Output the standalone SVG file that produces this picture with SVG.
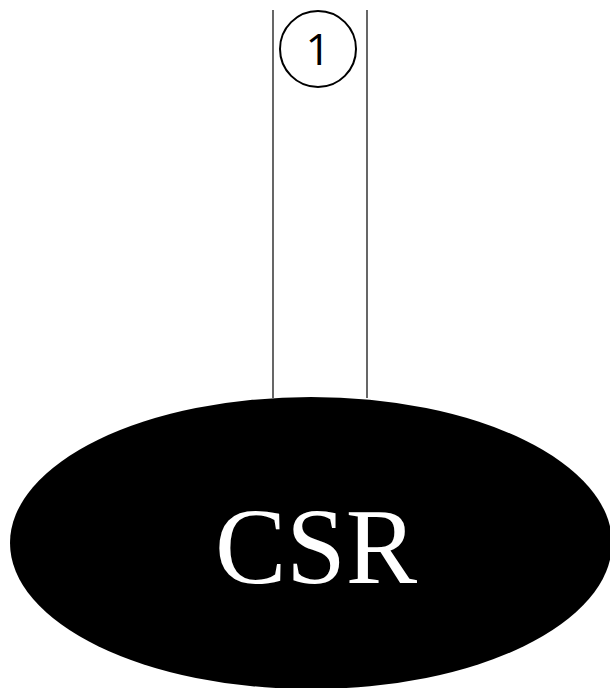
<svg xmlns="http://www.w3.org/2000/svg" width="610" height="688" viewBox="0 0 610 688">
<style>
.ln{stroke:#000;stroke-width:1.2;fill:none}
.lbl{font-family:'Open Sans','Liberation Sans',sans-serif;font-size:44px;fill:#000}
.big{font-family:'Liberation Serif','Times New Roman',serif;font-size:107px;fill:#fff}
</style>
<rect width="610" height="688" fill="#fff"/>
<g id="connectors">
<line class="ln" x1="273" y1="10" x2="273" y2="398"/>
<line class="ln" x1="367" y1="10" x2="367" y2="398"/>
</g>
<g id="label1">
<circle cx="318" cy="49" r="38" fill="#fff" stroke="#000" stroke-width="2"/>
<text class="lbl" x="318" y="65" text-anchor="middle">1</text>
</g>
<g id="csr">
<ellipse cx="311" cy="543" rx="301" ry="146" fill="#000"/>
<text class="big" x="316" y="583" text-anchor="middle">CSR</text>
</g>
</svg>
